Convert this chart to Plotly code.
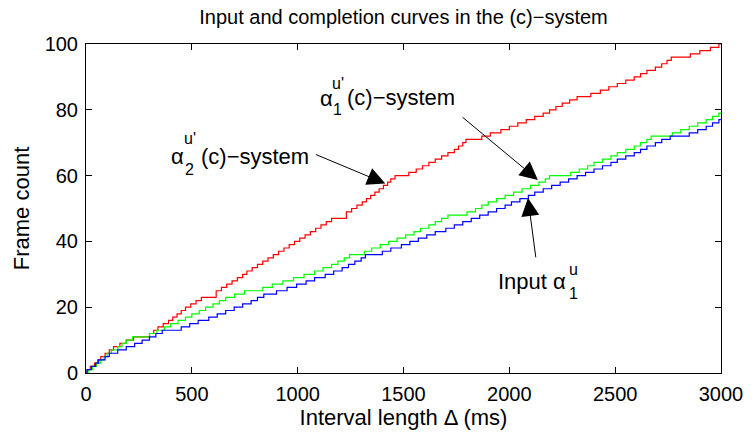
import plotly.graph_objects as go

# step times (ms) at which each curve reaches the count below it
blue_t = [5, 25, 45, 60, 90, 110, 150, 190, 230, 265, 300, 330, 360, 450, 490, 530, 580, 620, 660, 700,
          740, 780, 810, 840, 900, 950, 995, 1040, 1080, 1130, 1170, 1210, 1240, 1270, 1300, 1320, 1400, 1440,
          1490, 1530, 1570, 1610, 1650, 1700, 1740, 1780, 1820, 1860, 1900, 1940, 1980, 2010, 2050, 2090,
          2120, 2160, 2200, 2240, 2280, 2320, 2360, 2400, 2440, 2480, 2510, 2550, 2590, 2620, 2650, 2690,
          2720, 2760, 2850, 2890, 2930, 2960, 2990]
blue_n = list(range(1, 78))

green_t = [10, 30, 50, 70, 85, 100, 120, 150, 170, 190, 220, 300, 335, 370, 400, 435, 470, 500, 535, 565,
           600, 630, 660, 702, 749, 835, 880, 930, 980, 1030, 1080, 1120, 1160, 1190, 1220, 1245, 1315, 1350,
           1390, 1430, 1470, 1510, 1550, 1580, 1620, 1650, 1680, 1710, 1800, 1840, 1870, 1900, 1940, 1980,
           2020, 2060, 2100, 2140, 2170, 2190, 2290, 2330, 2370, 2400, 2440, 2480, 2510, 2550, 2590, 2620,
           2650, 2670, 2770, 2810, 2850, 2890, 2930, 2960, 2990]
green_n = list(range(1, 80))

red_t = [5, 20, 40, 55, 70, 90, 110, 130, 160, 190, 225, 300, 320, 340, 365, 390, 410, 430, 450, 470,
         495, 520, 545, 615, 640, 665, 690, 715, 740, 760, 785, 810, 835, 860, 885, 910, 935, 960, 985,
         1010, 1035, 1060, 1085, 1110, 1135, 1160, 1230, 1255, 1280, 1305, 1325, 1345, 1365, 1385, 1405,
         1425, 1440, 1460, 1525, 1560, 1590, 1620, 1650, 1680, 1710, 1740, 1760, 1780, 1795, 1870, 1910,
         1960, 2000, 2040, 2080, 2120, 2160, 2190, 2220, 2250, 2285, 2320, 2385, 2430, 2470, 2510, 2550,
         2590, 2620, 2650, 2690, 2720, 2745, 2765, 2855, 2900, 2950, 2990]
red_n = list(range(1, 24)) + list(range(25, 48)) + list(range(49, 101))

font = "Liberation Sans, Arial, Helvetica, sans-serif"

fig = go.Figure()
for t, n, c in [(red_t, red_n, "#ff0000"), (green_t, green_n, "#00ff00"), (blue_t, blue_n, "#0000ff")]:
    fig.add_trace(go.Scatter(x=[0] + t + [3000], y=[0] + n + [n[-1]], mode="lines",
                             line=dict(color=c, width=1.2, shape="hv"), showlegend=False))

def label(x, y, text, size=22, anchor="center"):
    fig.add_annotation(x=x, y=y, text=text, showarrow=False, xanchor=anchor, yanchor="middle",
                       font=dict(size=size, color="black", family=font))

def arrow(x, y, ax, ay):
    fig.add_annotation(x=x, y=y, ax=ax, ay=ay, axref="x", ayref="y", text="", showarrow=True,
                       arrowhead=2, arrowsize=3.6, arrowwidth=1, arrowcolor="black")

# alpha_2^u' (c)-system
label(433, 65.8, "α")
label(490, 71.2, "u'", 16)
label(490, 62.0, "2", 16)
label(532, 65.8, "(c)−system", anchor="left")
arrow(1414, 57.6, 1079, 66.6)

# alpha_1^u' (c)-system
label(1135, 83.4, "α")
label(1190, 88.0, "u'", 16)
label(1190, 80.2, "1", 16)
label(1222, 83.6, "(c)−system", anchor="left")
arrow(2135, 58.7, 1772, 78.1)

# Input alpha_1^u
label(2276, 27.8, "Input α", anchor="right")
label(2302, 31.6, "u", 16)
label(2302, 24.2, "1", 16)
arrow(2088, 53.2, 2126, 34.7)

axis = dict(showline=True, linecolor="black", linewidth=1, mirror="ticks", ticks="inside", ticklen=6,
            tickcolor="black", showgrid=False, zeroline=False, ticklabelstandoff=3,
            tickfont=dict(size=20, color="black", family=font))
fig.update_xaxes(axis, range=[0, 3000], tickvals=[0, 500, 1000, 1500, 2000, 2500, 3000],
                 title=dict(text="Interval length Δ (ms)", font=dict(size=22, color="black", family=font), standoff=2))
fig.update_yaxes(axis, range=[0, 100], tickvals=[0, 20, 40, 60, 80, 100],
                 title=dict(text="Frame count", font=dict(size=22, color="black", family=font), standoff=8))

fig.update_layout(
    width=755, height=434, plot_bgcolor="white", paper_bgcolor="white",
    margin=dict(l=86, r=24, t=44, b=61),
    title=dict(text="Input and completion curves in the (c)−system", x=0.5, xref="paper", xanchor="center",
               y=0.96, yref="container", yanchor="middle",
               font=dict(size=20, color="black", family=font)),
)

# drop the default body margin so the figure fills the window exactly
fig.write_html("out.html", config={"displayModeBar": False},
               post_script="document.body.style.margin='0';")
